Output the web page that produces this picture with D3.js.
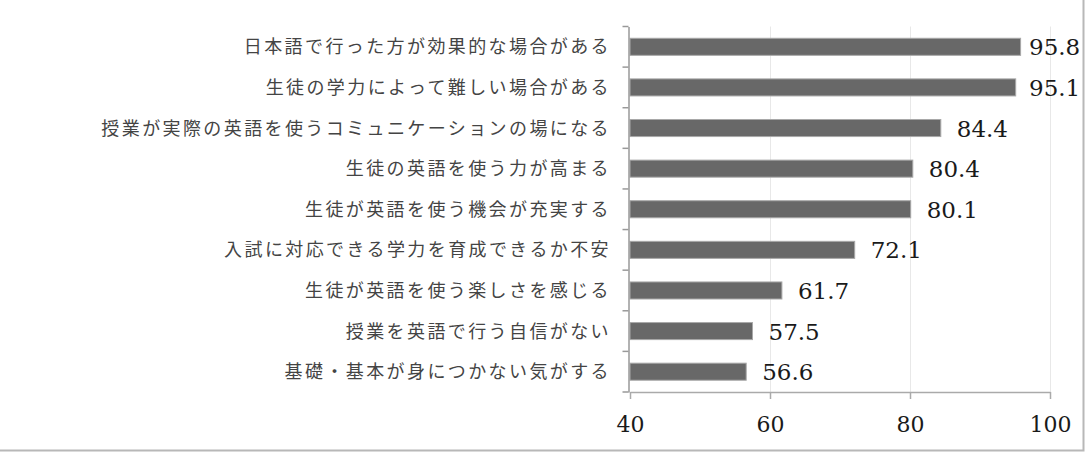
<!DOCTYPE html>
<html>
<head>
<meta charset="utf-8">
<script src="https://cdn.jsdelivr.net/npm/d3@7"></script>
<style>
  body { margin: 0; background: #fff; }
  svg { display: block; }
</style>
</head>
<body>
<svg id="chart" width="1090" height="460"></svg>
<script>
let categories = [
  "日本語で行った方が効果的な場合がある",
  "生徒の学力によって難しい場合がある",
  "授業が実際の英語を使うコミュニケーションの場になる",
  "生徒の英語を使う力が高まる",
  "生徒が英語を使う機会が充実する",
  "入試に対応できる学力を育成できるか不安",
  "生徒が英語を使う楽しさを感じる",
  "授業を英語で行う自信がない",
  "基礎・基本が身につかない気がする"
];
let values = [95.8, 95.1, 84.4, 80.4, 80.1, 72.1, 61.7, 57.5, 56.6];
let xTicks = [40, 60, 80, 100];

let svg = d3.select("#chart");
let plotL = 630, plotR = 1050, plotT = 26.5, plotB = 392;

let x = d3.scaleLinear().domain([40, 100]).range([plotL, plotR]);
let y = d3.scaleBand().domain(categories).range([plotT, plotB]).paddingInner(0.58).paddingOuter(0.29);
let yb = d3.scaleBand().domain(categories).range([plotT, plotB]);

// outer frame (right and bottom edges visible)
svg.append("path")
  .attr("d", "M1083.5,0V450.5H0")
  .attr("fill", "none")
  .attr("stroke", "#b8b8b8")
  .attr("stroke-width", 2);

// gridlines
svg.append("g").selectAll("line")
  .data(xTicks.slice(1))
  .join("line")
  .attr("x1", d => x(d) + 0.5).attr("x2", d => x(d) + 0.5)
  .attr("y1", plotT).attr("y2", plotB)
  .attr("stroke", "#e8e8e8");

// bars
svg.append("g").selectAll("rect")
  .data(values)
  .join("rect")
  .attr("x", x(40))
  .attr("y", (d, i) => y(categories[i]))
  .attr("width", d => x(d) - x(40))
  .attr("height", y.bandwidth())
  .attr("fill", "#686868")
  .attr("stroke", "#a8a8a8")
  .attr("stroke-width", 1);

// value labels
svg.append("g").selectAll("text")
  .data(values)
  .join("text")
  .attr("x", d => Math.min(x(d) + 16, x(100) - 21))
  .attr("y", (d, i) => y(categories[i]) + y.bandwidth() / 2)
  .attr("dy", "0.37em")
  .attr("font-family", "DejaVu Serif")
  .attr("font-size", 23)
  .attr("fill", "#1a1a1a")
  .text(d => d.toFixed(1));

// y axis
let yAxis = svg.append("g")
  .attr("transform", `translate(${plotL - 1.5},0)`)
  .call(d3.axisLeft(yb).tickSize(0).tickFormat(""));
yAxis.select(".domain").attr("stroke", "#999").attr("stroke-width", 1.5);
yAxis.append("g").selectAll("line")
  .data(d3.range(categories.length + 1))
  .join("line")
  .attr("x1", -6).attr("x2", 0)
  .attr("y1", d => plotT + d * yb.step()).attr("y2", d => plotT + d * yb.step())
  .attr("stroke", "#999").attr("stroke-width", 1.5);

// category labels
svg.append("g").selectAll("text")
  .data(categories)
  .join("text")
  .attr("x", 611)
  .attr("y", d => yb(d) + yb.bandwidth() / 2)
  .attr("dy", "0.36em")
  .attr("text-anchor", "end")
  .attr("font-family", "Noto Sans CJK JP")
  .attr("font-size", 18)
  .attr("letter-spacing", "2.4px")
  .attr("fill", "#444")
  .text(d => d);

// x axis
let xAxis = svg.append("g")
  .attr("transform", `translate(0,${plotB})`)
  .call(d3.axisBottom(x).tickValues(xTicks).tickSize(7).tickSizeOuter(0).tickPadding(17));
xAxis.select(".domain").attr("stroke", "#aaa").attr("stroke-width", 1.5);
xAxis.selectAll(".tick line").attr("stroke", "#aaa").attr("stroke-width", 1.5);
xAxis.selectAll(".tick text")
  .attr("font-family", "DejaVu Serif")
  .attr("font-size", 22)
  .attr("fill", "#1a1a1a");
</script>
</body>
</html>
